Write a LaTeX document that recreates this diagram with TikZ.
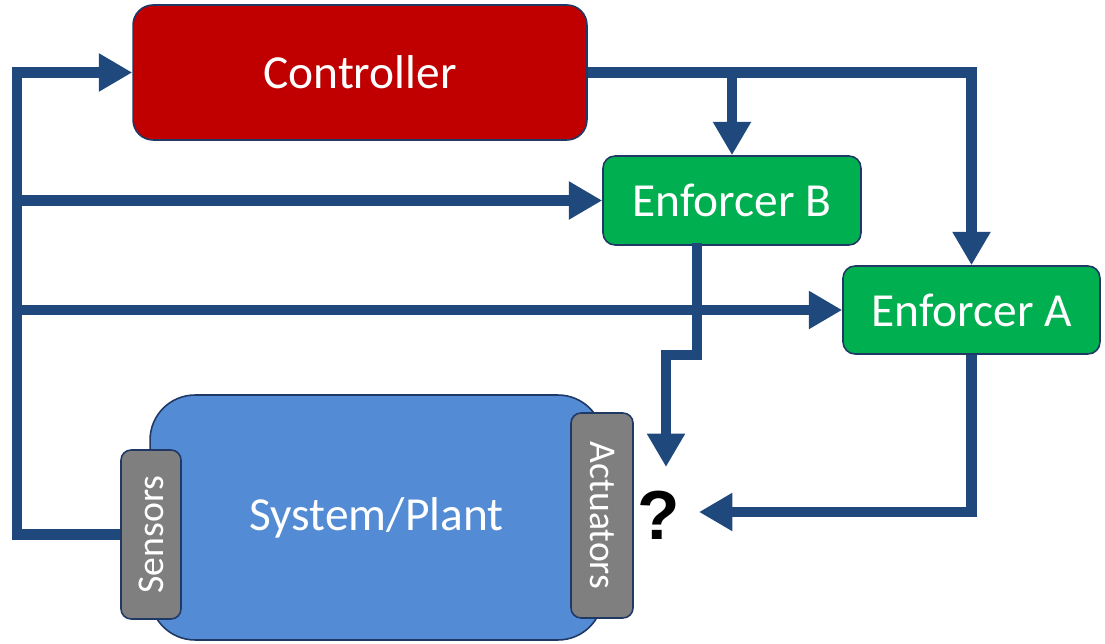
\documentclass[tikz,border=0pt]{standalone}
\usepackage{fontspec}
\setmainfont{Carlito}
\newfontfamily\markfont{Liberation Sans}
\usetikzlibrary{arrows.meta}
\definecolor{flowblue}{HTML}{1F497D}
\definecolor{edgeblue}{HTML}{1F3864}
\definecolor{ctrlred}{HTML}{C00000}
\definecolor{enfgreen}{HTML}{00B050}
\definecolor{plantblue}{HTML}{538BD4}
\definecolor{portgray}{HTML}{7F7F7F}
\tikzset{
  block/.style={draw=edgeblue, line width=0.9pt, text=white, align=center,
    font=\fontsize{27}{32}\selectfont, inner sep=0pt},
  port/.style={block, fill=portgray, rounded corners=0.2cm,
    font=\fontsize{21.5}{26}\selectfont},
  flow/.style={draw=flowblue, line width=6.2pt, line join=miter},
  head/.style={-{Triangle[width=20.5pt,length=19pt]}},
}
\begin{document}
\begin{tikzpicture}[x=0.02cm, y=-0.02cm]
\useasboundingbox (0,0) rectangle (1105,644);

% blocks
\node[block, fill=ctrlred, rounded corners=0.4cm, minimum width=9.08cm, minimum height=2.7cm]
  (ctrl) at (360,72.5) {Controller};
\node[block, fill=enfgreen, rounded corners=0.24cm, minimum width=5.16cm, minimum height=1.78cm]
  (encB) at (732,200.5) {Enforcer B};
\node[block, fill=enfgreen, rounded corners=0.24cm, minimum width=5.14cm, minimum height=1.76cm]
  (encA) at (971.5,310) {Enforcer A};
\node[block, fill=plantblue, rounded corners=0.9cm, minimum width=9.06cm, minimum height=4.9cm]
  (plant) at (376.5,517.5) {System/Plant};
\node[port, minimum width=1.2cm, minimum height=3.38cm] (sens) at (151,534.5) {};
\node[rotate=90, text=white, font=\fontsize{21.5}{26}\selectfont] at (sens.center) {Sensors};
\node[port, minimum width=1.24cm, minimum height=4.1cm] (act) at (602,515.5) {};
\node[rotate=-90, text=white, font=\fontsize{21.5}{26}\selectfont] at (act.center) {Actuators};
\node[font=\markfont\bfseries\fontsize{39.5}{44}\selectfont, inner sep=0pt] (q) at (659,515) {?};

% bends and free ends of the connectors
\coordinate (busB) at (17,534.5);
\coordinate (busT) at (17,72.5);
\coordinate (tapB) at (17,200.5);
\coordinate (tapA) at (17,310);
\coordinate (outB) at (697,243);
\coordinate (jogR) at (697,355);
\coordinate (jogL) at (666,355);
\coordinate (inB) at (666,467);
\coordinate (inA) at (699,512);

% feedback bus from the sensors
\draw[flow, head] (sens.west) -- (busB) -- (busT) -- (ctrl.west);
\draw[flow, head] (tapB) -- (encB.west);
\draw[flow, head] (tapA) -- (encA.west);

% controller commands
\draw[flow, head] (ctrl.east) -| (encA.north);
\draw[flow, head] (encB.north |- ctrl.east) -- (encB.north);

% enforcer outputs towards the actuators
\draw[flow, head] (outB) -- (jogR) -- (jogL) -- (inB);
\draw[flow, head] (encA.south) |- (inA);
\end{tikzpicture}
\end{document}
